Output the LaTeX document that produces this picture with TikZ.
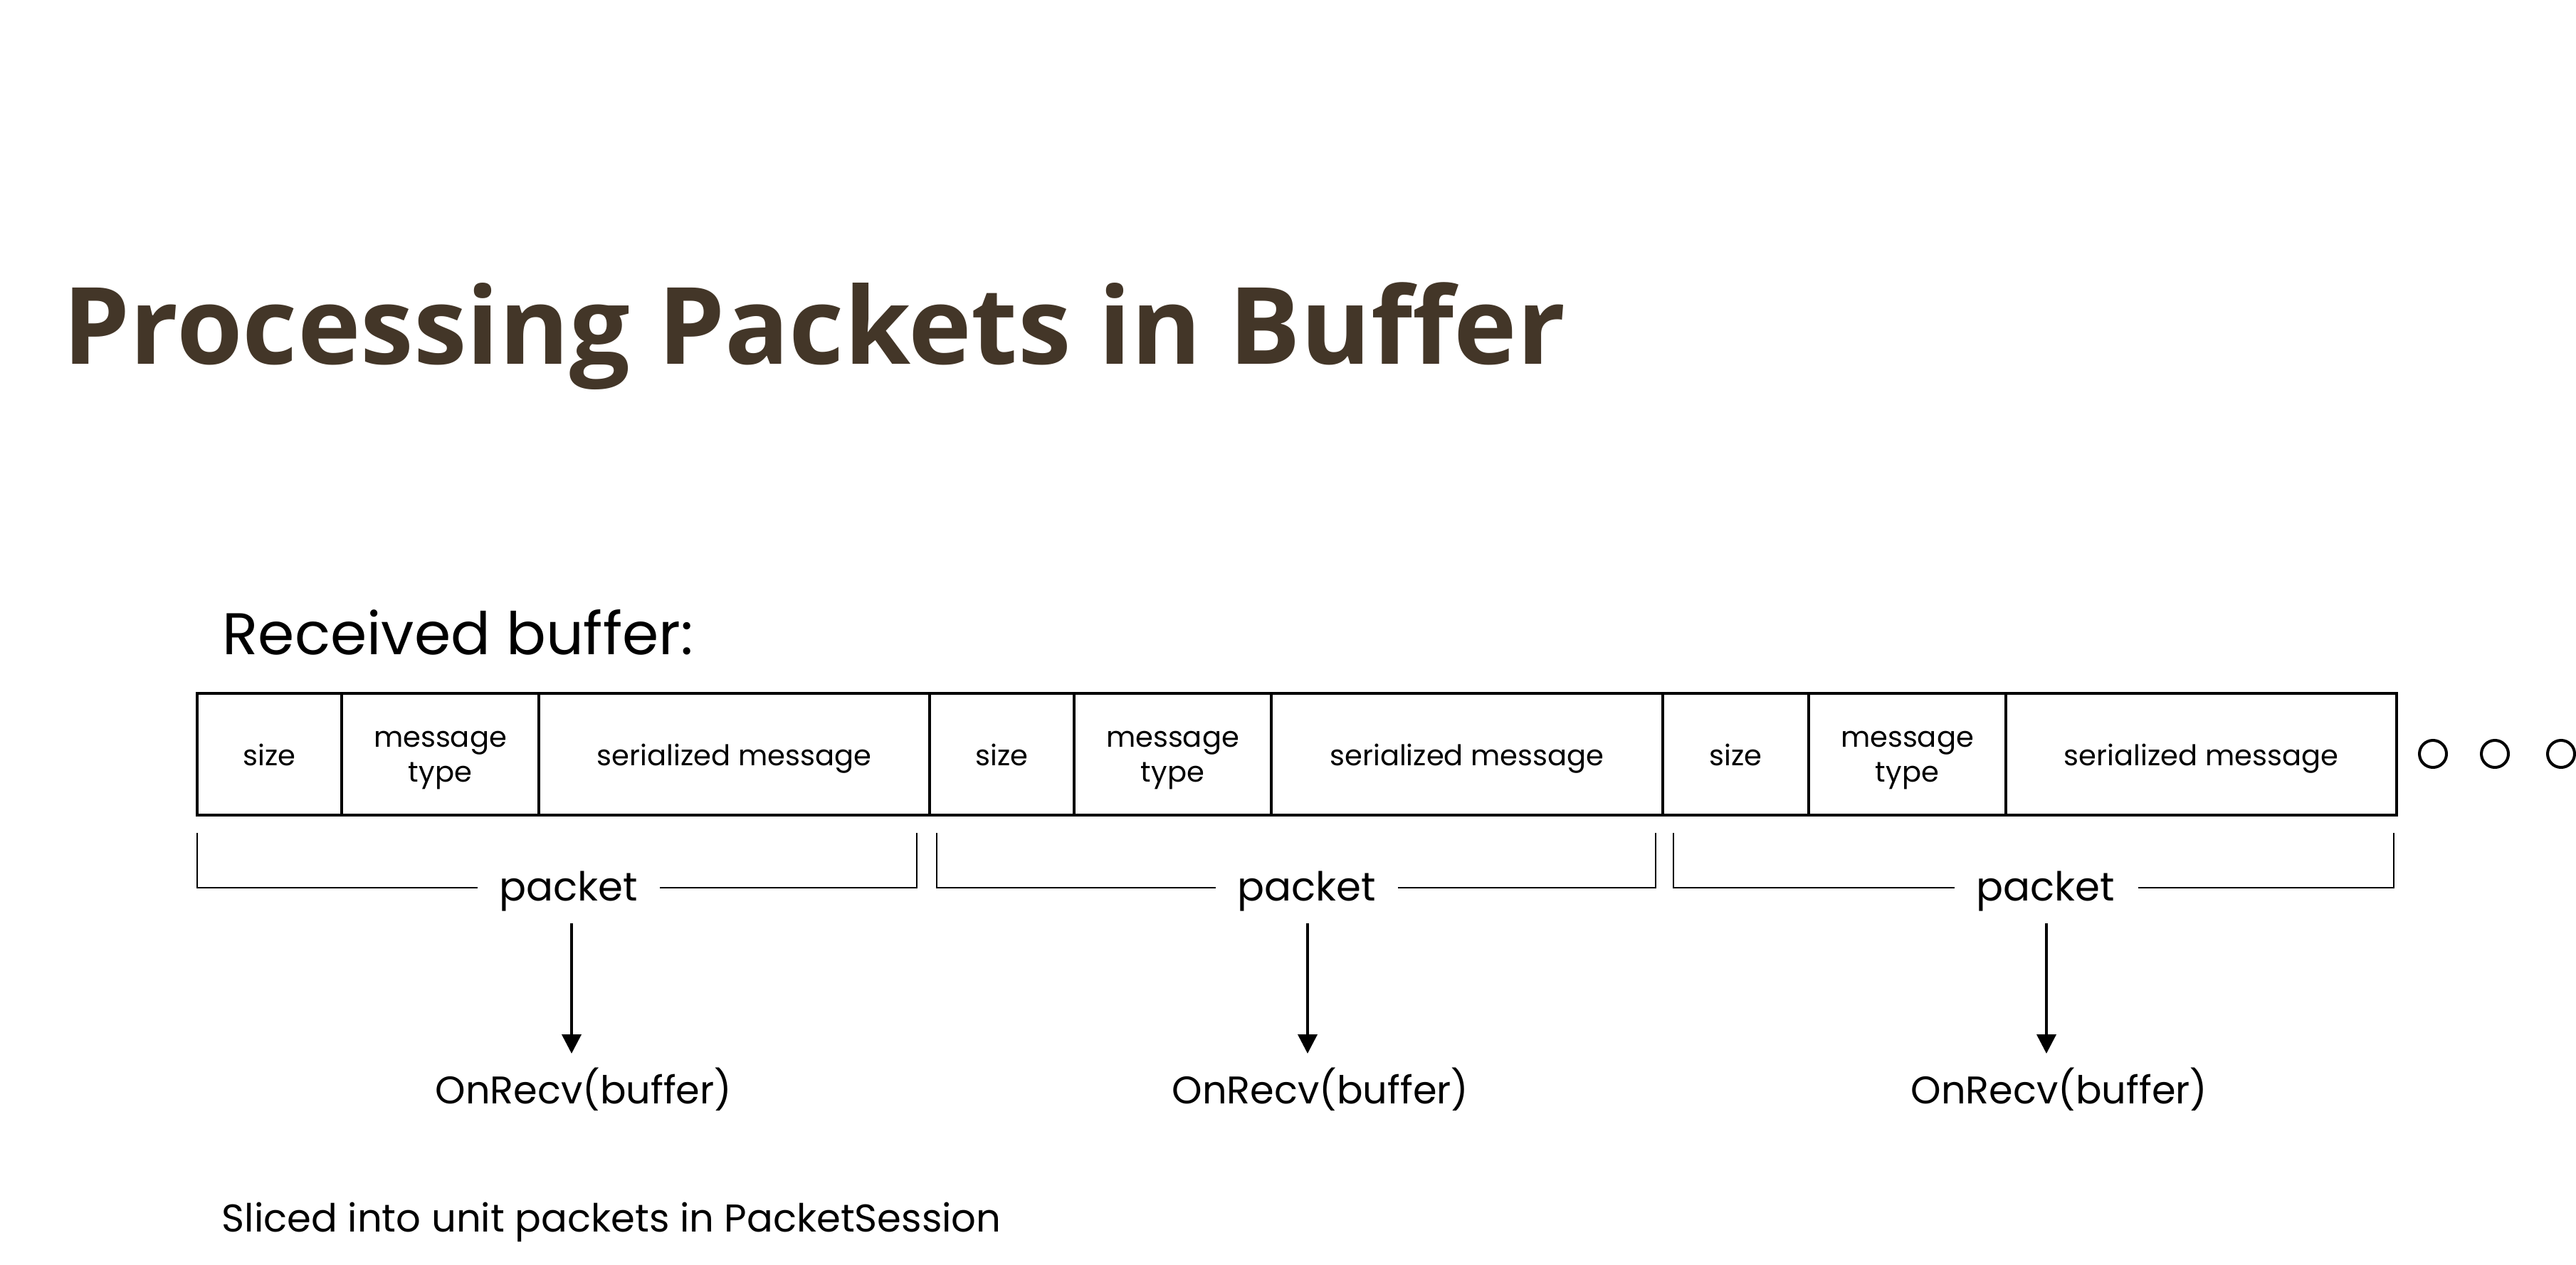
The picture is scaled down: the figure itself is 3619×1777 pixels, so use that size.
\documentclass[tikz,border=0pt]{standalone}
\usepackage{fontspec}
\setmainfont{Poppins}
\newfontfamily\titlefont{Open Sans}
\usetikzlibrary{arrows.meta}
\definecolor{titlebrown}{HTML}{433628}
\begin{document}
\begin{tikzpicture}[x=0.1mm,y=-0.1mm]
\tikzset{
  titletext/.style={anchor=base west, inner sep=0, text=titlebrown,
    font=\titlefont\bfseries\fontsize{42.7}{48}\selectfont},
  headtext/.style={anchor=base west, inner sep=0, font=\fontsize{23.5}{28}\selectfont},
  celltext/.style={anchor=base, inner sep=0, align=center,
    font=\fontsize{11.4}{13.7}\selectfont},
  pkttext/.style={anchor=base, inner sep=0, font=\fontsize{16}{19}\selectfont},
  calltext/.style={anchor=base, inner sep=0, font=\fontsize{15.4}{18}\selectfont},
  notetext/.style={anchor=base west, inner sep=0, font=\fontsize{15.5}{18}\selectfont},
  bufline/.style={line width=1.2pt},
  bracket/.style={line width=0.7pt},
  arr/.style={line width=1.1pt, -{Triangle[width=2.7mm,length=2.7mm]}},
  dot/.style={line width=1.15pt}
}
\useasboundingbox (0,0) rectangle (3619,1777);
\fill[white] (0,0) rectangle (3619,1777);

% title
\node[titletext] (title) at (88,512) {Processing Packets in Buffer};
\node[headtext] (recv) at (312,919) {Received buffer:};

% buffer
\draw[bufline] (277,974) rectangle (3367,1145);
\foreach \x in {480,757,1306,1509,1786,2336,2541,2818}
  \draw[bufline] (\x,974) -- (\x,1145);

% cell texts
\node[celltext] (s1) at (378.5,1075) {size};
\node[celltext] (t1) at (618.5,1098) {message\\type};
\node[celltext] (m1) at (1031.5,1075) {serialized message};
\node[celltext] (s2) at (1407.5,1075) {size};
\node[celltext] (t2) at (1647.5,1098) {message\\type};
\node[celltext] (m2) at (2061,1075) {serialized message};
\node[celltext] (s3) at (2438.5,1075) {size};
\node[celltext] (t3) at (2679.5,1098) {message\\type};
\node[celltext] (m3) at (3092.5,1075) {serialized message};

% ellipsis circles
\draw[dot] (3418,1059) circle (19);
\draw[dot] (3505,1059) circle (19);
\draw[dot] (3598,1059) circle (19);

% packet brackets
\node[pkttext] (pk1) at (799,1265) {packet};
\node[pkttext] (pk2) at (1836,1265) {packet};
\node[pkttext] (pk3) at (2874,1265) {packet};
\draw[bracket] (277,1170) -- (277,1247) -- (671,1247);
\draw[bracket] (927,1247) -- (1288,1247) -- (1288,1170);
\draw[bracket] (1316,1170) -- (1316,1247) -- (1708,1247);
\draw[bracket] (1964,1247) -- (2326,1247) -- (2326,1170);
\draw[bracket] (2351,1170) -- (2351,1247) -- (2746,1247);
\draw[bracket] (3004,1247) -- (3363,1247) -- (3363,1170);

% calls
\node[calltext] (o1) at (820,1550) {OnRecv(buffer)};
\node[calltext] (o2) at (1855,1550) {OnRecv(buffer)};
\node[calltext] (o3) at (2893,1550) {OnRecv(buffer)};

\coordinate (a1s) at (803,1297); \coordinate (a1e) at (803,1480);
\coordinate (a2s) at (1837,1297); \coordinate (a2e) at (1837,1480);
\coordinate (a3s) at (2875,1297); \coordinate (a3e) at (2875,1480);
\draw[arr] (a1s) -- (a1e);
\draw[arr] (a2s) -- (a2e);
\draw[arr] (a3s) -- (a3e);

\node[notetext] (note) at (311,1730) {Sliced into unit packets in PacketSession};
\end{tikzpicture}
\end{document}
